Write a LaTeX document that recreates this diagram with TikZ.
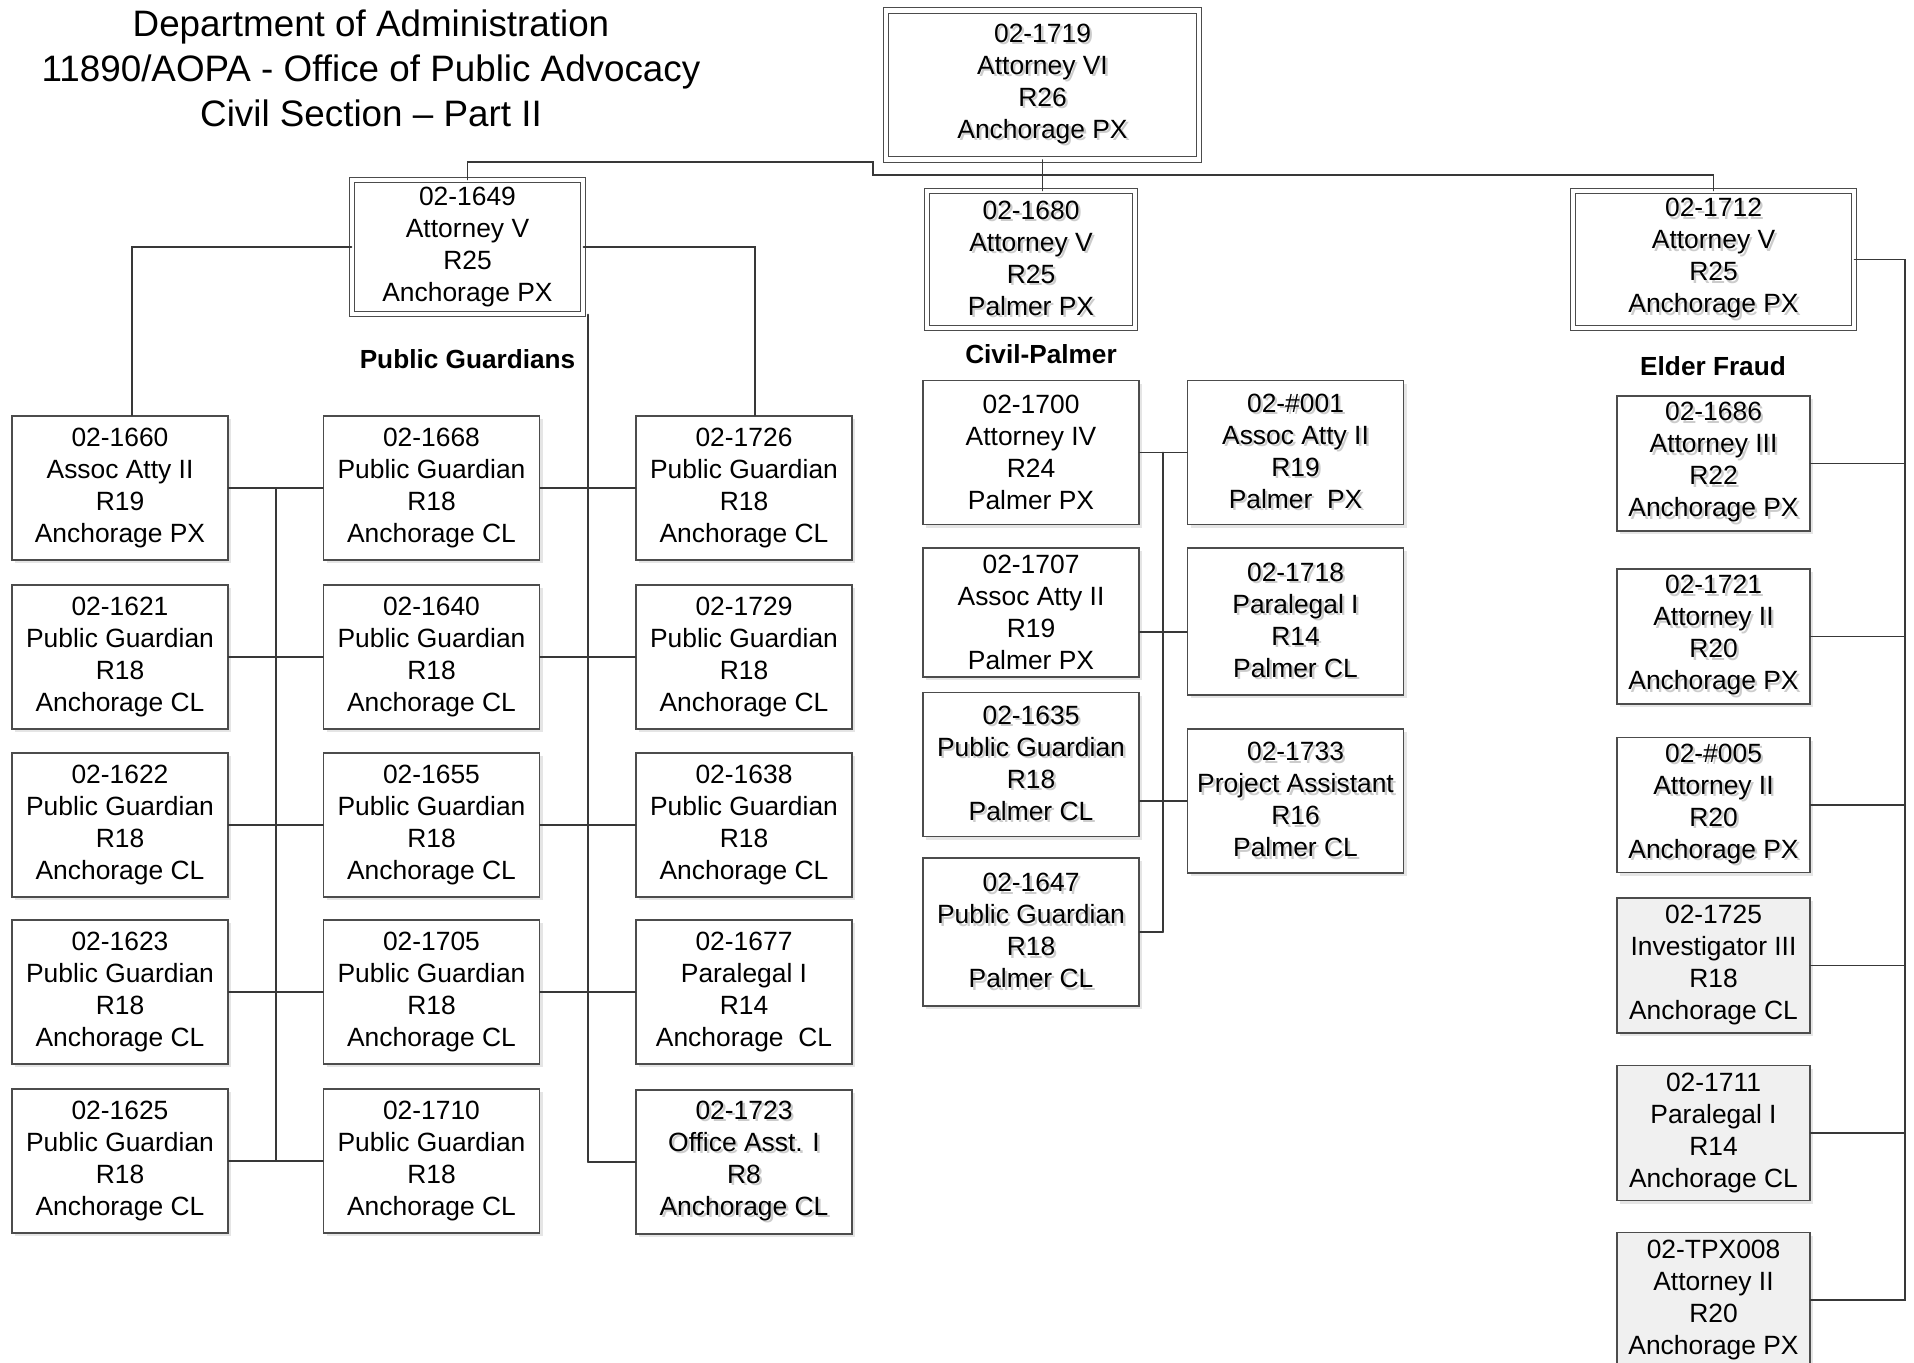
\documentclass[tikz,border=0pt]{standalone}
\usepackage{fontspec}
\setmainfont{Liberation Sans}
\usetikzlibrary{shadows}

\newcommand{\shd}[1]{\makebox[0pt][l]{\kern1.2pt\raisebox{-1.2pt}{\color{black!20}#1}}#1}

\tikzset{
  box/.style={draw=black!70, line width=0.6pt, fill=white, align=center, inner sep=1pt,
    minimum width=108pt, minimum height=72pt, font=\fontsize{13.2pt}{16pt}\selectfont,
    drop shadow={shadow xshift=1.6pt, shadow yshift=-1.6pt, fill=black!10, opacity=1}},
  dbox/.style={box, double=white, double distance=2.2pt, line width=0.55pt},
  gbox/.style={box, fill=black!6},
  efbox/.style={box, minimum width=96.5pt, minimum height=67.5pt},
  link/.style={draw=black!78, line width=0.9pt},
  head/.style={font=\fontsize{13.1pt}{16pt}\selectfont\bfseries},
  title/.style={align=center, font=\fontsize{18.4pt}{22.5pt}\selectfont}
}

\begin{document}
\begin{tikzpicture}[x=0.5pt, y=-0.5pt, line cap=round]
  \useasboundingbox (0,0) rectangle (1914,1363);

  \node[title] (ttl) at (371,68) {Department of Administration\\11890/AOPA - Office of Public Advocacy\\Civil Section – Part II};

  % heads
  \node[dbox, minimum width=156.5pt, minimum height=74.5pt] (n1719) at (1042.5,85) {\shd{02-1719}\\\shd{Attorney VI}\\\shd{R26}\\\shd{Anchorage PX}};
  \node[dbox, minimum width=115.5pt, minimum height=67pt] (n1649) at (467.5,247) {02-1649\\Attorney V\\R25\\Anchorage PX};
  \node[dbox, minimum width=104pt, minimum height=68.5pt] (n1680) at (1031,259.5) {\shd{02-1680}\\\shd{Attorney V}\\\shd{R25}\\\shd{Palmer PX}};
  \node[dbox, minimum width=140.5pt, minimum height=68.5pt] (n1712) at (1713.5,259.5) {\shd{02-1712}\\\shd{Attorney V}\\\shd{R25}\\\shd{Anchorage PX}};

  \node[head] (pglab) at (467.5,359) {Public Guardians};
  \node[head] (cplab) at (1041,354) {Civil-Palmer};
  \node[head] (eflab) at (1713,366) {Elder Fraud};

  % public guardians, column 1
  \node[box] (n1660) at (120,488) {02-1660\\Assoc Atty II\\R19\\Anchorage PX};
  \node[box] (n1621) at (120,657) {02-1621\\Public Guardian\\R18\\Anchorage CL};
  \node[box] (n1622) at (120,825) {02-1622\\Public Guardian\\R18\\Anchorage CL};
  \node[box] (n1623) at (120,992) {02-1623\\Public Guardian\\R18\\Anchorage CL};
  \node[box] (n1625) at (120,1161) {02-1625\\Public Guardian\\R18\\Anchorage CL};
  % column 2
  \node[box] (n1668) at (431.5,488) {02-1668\\Public Guardian\\R18\\Anchorage CL};
  \node[box] (n1640) at (431.5,657) {02-1640\\Public Guardian\\R18\\Anchorage CL};
  \node[box] (n1655) at (431.5,825) {02-1655\\Public Guardian\\R18\\Anchorage CL};
  \node[box] (n1705) at (431.5,992) {02-1705\\Public Guardian\\R18\\Anchorage CL};
  \node[box] (n1710) at (431.5,1161) {02-1710\\Public Guardian\\R18\\Anchorage CL};
  % column 3
  \node[box] (n1726) at (744,488) {02-1726\\Public Guardian\\R18\\Anchorage CL};
  \node[box] (n1729) at (744,657) {02-1729\\Public Guardian\\R18\\Anchorage CL};
  \node[box] (n1638) at (744,825) {02-1638\\Public Guardian\\R18\\Anchorage CL};
  \node[box] (n1677) at (744,992) {02-1677\\Paralegal I\\R14\\Anchorage\ \ CL};
  \node[box] (n1723) at (744,1162) {\shd{02-1723}\\\shd{Office Asst. I}\\\shd{R8}\\\shd{Anchorage CL}};

  % civil-palmer
  \node[box] (n1700) at (1031,452.5) {02-1700\\Attorney IV\\R24\\Palmer PX};
  \node[box, minimum height=64.5pt] (n1707) at (1031,612.5) {02-1707\\Assoc Atty II\\R19\\Palmer PX};
  \node[box] (n1635) at (1031,764.5) {\shd{02-1635}\\\shd{Public Guardian}\\\shd{R18}\\\shd{Palmer CL}};
  \node[box, minimum height=74pt] (n1647) at (1031,932) {\shd{02-1647}\\\shd{Public Guardian}\\\shd{R18}\\\shd{Palmer CL}};
  \node[box] (n001) at (1295.5,452.5) {\shd{02-\#001}\\\shd{Assoc Atty II}\\\shd{R19}\\\shd{Palmer\ \ PX}};
  \node[box, minimum height=73.5pt] (n1718) at (1295.5,621.5) {\shd{02-1718}\\\shd{Paralegal I}\\\shd{R14}\\\shd{Palmer CL}};
  \node[box] (n1733) at (1295.5,801) {\shd{02-1733}\\\shd{Project Assistant}\\\shd{R16}\\\shd{Palmer CL}};

  % elder fraud
  \node[efbox] (n1686) at (1713.5,463.5) {\shd{02-1686}\\\shd{Attorney III}\\\shd{R22}\\\shd{Anchorage PX}};
  \node[efbox] (n1721) at (1713.5,636.5) {\shd{02-1721}\\\shd{Attorney II}\\\shd{R20}\\\shd{Anchorage PX}};
  \node[efbox] (n005) at (1713.5,805) {\shd{02-\#005}\\\shd{Attorney II}\\\shd{R20}\\\shd{Anchorage PX}};
  \node[efbox, fill=black!6] (n1725) at (1713.5,965.5) {02-1725\\Investigator III\\R18\\Anchorage CL};
  \node[efbox, fill=black!6] (n1711) at (1713.5,1133) {02-1711\\Paralegal I\\R14\\Anchorage CL};
  \node[efbox, fill=black!6] (nTPX) at (1713.5,1300) {02-TPX008\\Attorney II\\R20\\Anchorage PX};

  % joints
  \coordinate (topmid) at (1042.5,175);
  \coordinate (topstep) at (873,175);
  \coordinate (topleft) at (873,162);
  \coordinate (pgL) at (276,488);
  \coordinate (pgLbot) at (276,1161);
  \coordinate (pgR) at (588,1162);
  \coordinate (cpT) at (1163,452.5);
  \coordinate (cp2) at (1163,632);
  \coordinate (cp3) at (1163,801);
  \coordinate (cpB) at (1163,932);
  \coordinate (efS) at (1905,1300);

  % top level
  \draw[link] (n1719.south) -- (topmid);
  \draw[link] (topmid) -- (topmid |- n1680.north);
  \draw[link] (n1649.north) |- (topleft) -- (topstep) -- (topmid) -| (n1712.north);

  % public guardians
  \draw[link] (n1649.west) -| ([xshift=6pt]n1660.north);
  \draw[link] (n1649.east) -| ([xshift=5.5pt]n1726.north);
  \draw[link] (pgL) -- (pgLbot);
  \draw[link] (n1649.south -| pgR) -- (pgR);
  \draw[link] (n1660.east) -- (n1668.west);
  \draw[link] (n1621.east) -- (n1640.west);
  \draw[link] (n1622.east) -- (n1655.west);
  \draw[link] (n1623.east) -- (n1705.west);
  \draw[link] (n1625.east) -- (n1710.west);
  \draw[link] (n1668.east) -- (n1726.west);
  \draw[link] (n1640.east) -- (n1729.west);
  \draw[link] (n1655.east) -- (n1638.west);
  \draw[link] (n1705.east) -- (n1677.west);
  \draw[link] (n1723.west) -- (pgR);

  % civil-palmer
  \draw[link] (cpT) -- (cpB);
  \draw[link] (n1700.east) -- (n001.west);
  \draw[link] (cp2 -| n1707.east) -- (cp2 -| n1718.west);
  \draw[link] (cp3 -| n1635.east) -- (n1733.west);
  \draw[link] (n1647.east) -- (cpB);

  % elder fraud
  \draw[link] (n1712.east) -| (efS) -- (nTPX.east);
  \draw[link] (n1686.east) -- (n1686.east -| efS);
  \draw[link] (n1721.east) -- (n1721.east -| efS);
  \draw[link] (n005.east) -- (n005.east -| efS);
  \draw[link] (n1725.east) -- (n1725.east -| efS);
  \draw[link] (n1711.east) -- (n1711.east -| efS);
\end{tikzpicture}
\end{document}
